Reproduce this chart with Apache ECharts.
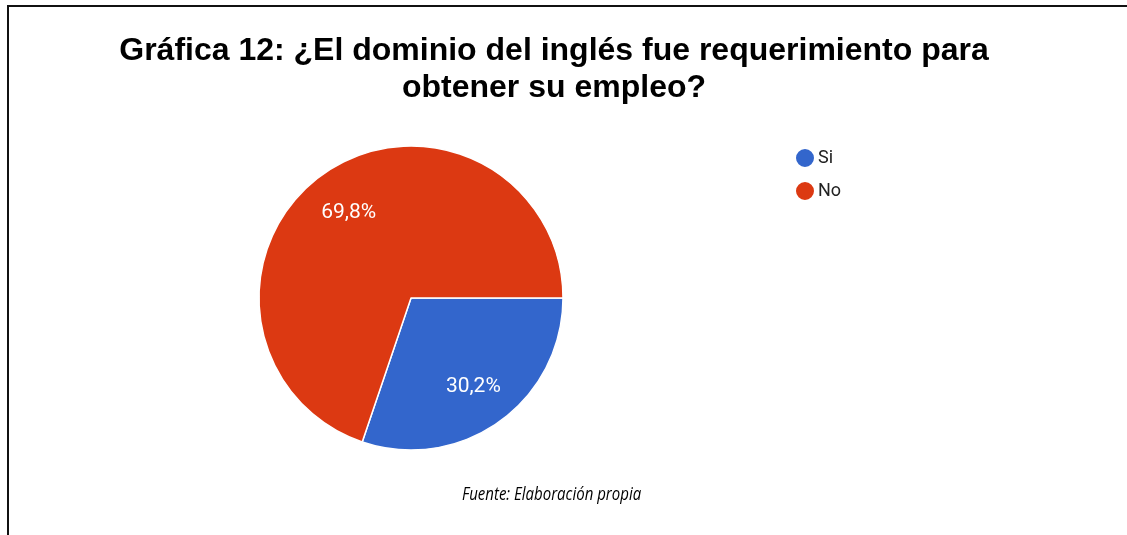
<!DOCTYPE html>
<html>
<head>
<meta charset="utf-8">
<script src="https://cdn.jsdelivr.net/npm/echarts@6/dist/echarts.min.js"></script>
<style>
html,body{margin:0;padding:0;background:#fff;}
#chart{width:1127px;height:535px;}
</style>
</head>
<body>
<div id="chart"></div>
<script>
const categories = ['Si', 'No'];
const values = [30.2, 69.8];
const colors = ['#3366cc', '#dc3912'];
const titleText = 'Gráfica 12: ¿El dominio del inglés fue requerimiento para\nobtener su empleo?';
const sourceText = 'Fuente: Elaboración propia';

const data = categories.map((c, i) => ({ name: c, value: values[i] }));
const chart = echarts.init(document.getElementById('chart'));
chart.setOption({
  animation: false,
  color: colors,
  title: {
    text: titleText,
    left: 549,
    textAlign: 'center',
    top: 28,
    textStyle: { fontFamily: '"Liberation Sans", Arial', fontWeight: 'bold', fontSize: 32, color: '#000', lineHeight: 37 }
  },
  legend: {
    orient: 'vertical',
    left: 789,
    top: 142,
    icon: 'circle',
    itemWidth: 20,
    itemHeight: 20,
    itemGap: 11,
    data: categories,
    textStyle: { fontFamily: 'Roboto, Arial', fontSize: 18, color: '#222', padding: [0, 0, 0, -2] }
  },
  graphic: [
    { type: 'line', shape: { x1: 8, y1: 6, x2: 1127, y2: 6 }, style: { stroke: '#111', lineWidth: 2 } },
    { type: 'line', shape: { x1: 8, y1: 5, x2: 8, y2: 535 }, style: { stroke: '#111', lineWidth: 2 } },
    { type: 'text', x: 462, y: 495, scaleX: 0.79, originX: 0, originY: 0,
      style: { text: sourceText, font: 'italic 19px "Open Sans", Arial', fill: '#000', verticalAlign: 'middle', align: 'left' } }
  ],
  series: [
    {
      type: 'pie',
      center: [411, 298],
      radius: [0, 152],
      startAngle: 0,
      clockwise: true,
      data: data,
      itemStyle: { borderColor: '#fff', borderWidth: 1.5 },
      label: { show: false },
      labelLine: { show: false },
      emphasis: { disabled: true }
    },
    {
      type: 'pie',
      center: [411, 300],
      radius: [56, 152],
      startAngle: 0,
      clockwise: true,
      silent: true,
      data: data,
      itemStyle: { color: 'rgba(0,0,0,0)' },
      label: {
        show: true,
        position: 'inside',
        formatter: p => String(p.value).replace('.', ',') + '%',
        color: '#fff',
        fontFamily: 'Roboto, Arial',
        fontSize: 21,
        fontWeight: 'normal'
      },
      labelLine: { show: false },
      emphasis: { disabled: true }
    }
  ]
});
</script>
</body>
</html>
